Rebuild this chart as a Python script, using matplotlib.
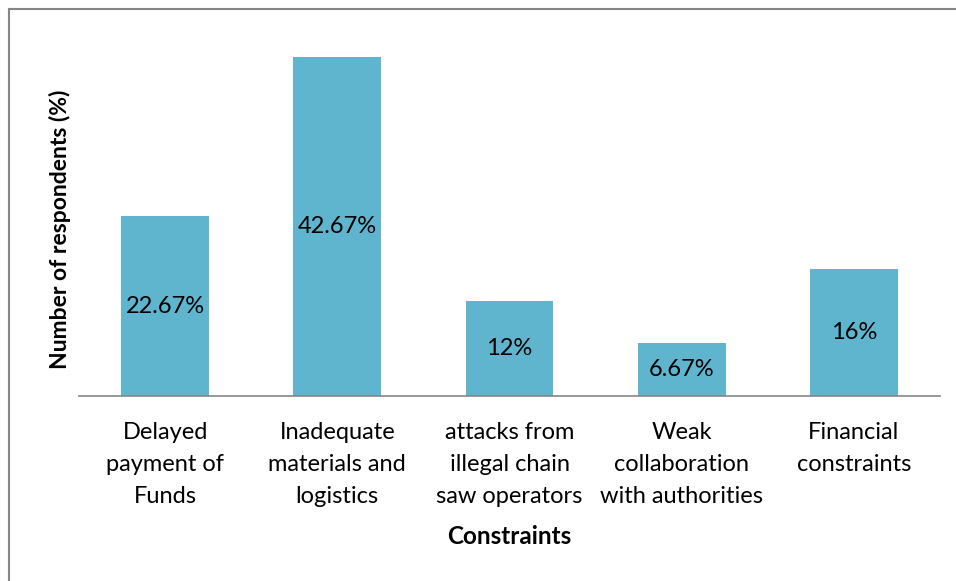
import matplotlib
matplotlib.use("Agg")
import matplotlib.pyplot as plt
from matplotlib.lines import Line2D

categories = ["Delayed\npayment of\nFunds", "Inadequate\nmaterials and\nlogistics",
              "attacks from\nillegal chain\nsaw operators", "Weak\ncollaboration\nwith authorities",
              "Financial\nconstraints"]
values = [22.67, 42.67, 12, 6.67, 16]
value_labels = ["22.67%", "42.67%", "12%", "6.67%", "16%"]

plt.rcParams['font.family'] = ['Lato', 'DejaVu Sans']

W, H = 956, 581
fig = plt.figure(figsize=(W/100, H/100), dpi=100)
ax = fig.add_axes([79/W, 1-396/H, (940-79)/W, (396-39)/H])

color = "#5FB4CE"
x = list(range(len(values)))
ax.bar(x, values, width=0.51, color=color)
for xi, v, lab in zip(x, values, value_labels):
    ax.text(xi, v/2, lab, ha="center", va="center", fontsize=17, color="black")

ax.set_xlim(-0.5, len(values)-0.5)
ax.set_ylim(0, 45)
ax.set_yticks([])
ax.set_xticks(x)
ax.set_xticklabels(categories, fontsize=17, linespacing=1.65, va="top")
ax.tick_params(axis="x", length=0, pad=19)
for s in ["top", "right", "left"]:
    ax.spines[s].set_visible(False)
ax.spines["bottom"].set_color("#868686")
ax.spines["bottom"].set_linewidth(1.2)

fig.text(60/W, 1-229/H, "Number of respondents (%)", rotation=90, ha="center", va="center",
         fontsize=16.5, fontweight="bold")
fig.text(509/W, 1-537/H, "Constraints", ha="center", va="center", fontsize=17.5, fontweight="bold")

# figure border (left and top visible)
fig.add_artist(Line2D([9/W, 9/W], [0, 1-9/H], transform=fig.transFigure, color="#868686", lw=1.5))
fig.add_artist(Line2D([9/W, 1], [1-9/H, 1-9/H], transform=fig.transFigure, color="#868686", lw=1.5))

fig.savefig("out.png", dpi=100)
